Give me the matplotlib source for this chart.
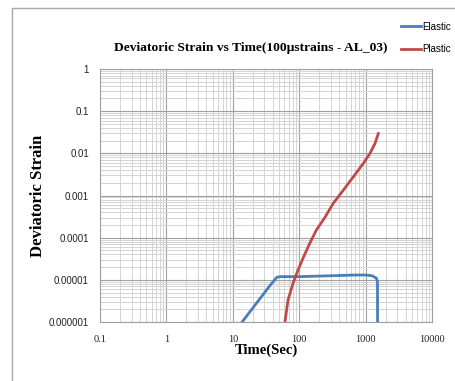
import matplotlib
matplotlib.use("Agg")
import matplotlib.pyplot as plt
from matplotlib.patches import Rectangle
from matplotlib.ticker import FixedLocator, LogLocator, NullFormatter

# time (s) and deviatoric strain for the two components
elastic_t = [13.8, 36, 46, 52, 100, 300, 700, 1000, 1250, 1450, 1510, 1515]
elastic_e = [1.0e-6, 7.2e-6, 1.15e-5, 1.19e-5, 1.19e-5, 1.25e-5, 1.3e-5, 1.3e-5, 1.25e-5, 1.1e-5, 9.0e-6, 5e-7]

plastic_t = [61, 67.8, 80.7, 96, 114, 144, 181, 243, 325, 462, 653, 925, 1165, 1386, 1554]
plastic_e = [1.0e-6, 3.3e-6, 8.3e-6, 1.7e-5, 3.24e-5, 7.3e-5, 1.51e-4, 3.0e-4, 6.5e-4, 1.34e-3,
             2.77e-3, 5.8e-3, 1.0e-2, 1.72e-2, 2.95e-2]

x_ticks = [0.1, 1, 10, 100, 1000, 10000]
x_labels = ["0.1", "1", "10", "100", "1000", "10000"]
y_ticks = [1e-6, 1e-5, 1e-4, 1e-3, 1e-2, 1e-1, 1]
y_labels = ["0.000001", "0.00001", "0.0001", "0.001", "0.01", "0.1", "1"]

fig = plt.figure(figsize=(4.56, 3.81), dpi=100)
fig.patches.append(Rectangle((12 / 456, -0.1), 1.2, 1.1 - 8 / 381, transform=fig.transFigure,
                             fill=False, edgecolor="#a6a6a6", linewidth=1.0))

ax = fig.add_axes([100 / 456, 59 / 381, 332 / 456, 253 / 381])
ax.set_xscale("log")
ax.set_yscale("log")
ax.set_xlim(0.1, 10000)
ax.set_ylim(1e-6, 1)

ax.plot(elastic_t, elastic_e, color="#4a7ebb", lw=2, label="Elastic", solid_joinstyle="round")
ax.plot(plastic_t, plastic_e, color="#be4b48", lw=2, label="Plastic", solid_joinstyle="round")

ax.xaxis.set_major_locator(FixedLocator(x_ticks))
ax.yaxis.set_major_locator(FixedLocator(y_ticks))
ax.xaxis.set_minor_locator(LogLocator(base=10, subs=range(2, 10), numticks=20))
ax.yaxis.set_minor_locator(LogLocator(base=10, subs=range(2, 10), numticks=20))
ax.xaxis.set_minor_formatter(NullFormatter())
ax.yaxis.set_minor_formatter(NullFormatter())
ax.set_xticklabels(x_labels, family="Liberation Serif", fontsize=7.5, color="#222222")
ax.set_yticklabels(y_labels, family="Liberation Sans", fontsize=7, color="#222222")
ax.tick_params(which="both", length=0)
ax.tick_params(axis="y", pad=8)
ax.tick_params(axis="x", pad=9)

ax.grid(which="major", color="#a0a0a0", lw=0.8)
ax.grid(which="minor", color="#d4d4d4", lw=0.7)
ax.set_axisbelow(True)
for s in ax.spines.values():
    s.set_color("#a0a0a0")
    s.set_linewidth(0.8)

ax.set_xlabel("Time(Sec)", family="Liberation Serif", fontweight="bold", fontsize=10.5, labelpad=0)
ax.set_ylabel("Deviatoric Strain", family="Liberation Serif", fontweight="bold", fontsize=12, labelpad=2)
fig.text(251 / 456, 1 - 48 / 381, "Deviatoric Strain vs Time(100μstrains - AL_03)",
         family="Liberation Serif", fontweight="bold", fontsize=9.7, ha="center", va="center")

fig.legend(loc="upper left", bbox_to_anchor=(392 / 456, 1 - 13 / 381), frameon=False,
           prop={"family": ["Liberation Sans Narrow", "Liberation Sans"], "size": 7.0},
           handlelength=2.1, handletextpad=0.15, labelspacing=1.3)

fig.savefig("out.png", dpi=100)
